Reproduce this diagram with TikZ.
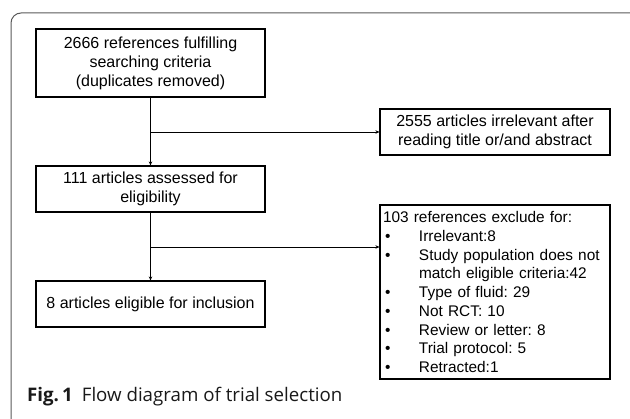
\documentclass[tikz,border=0pt]{standalone}
\usepackage{fontspec}
\setmainfont{Liberation Sans}
\newfontfamily\capfont{Open Sans}
\usetikzlibrary{arrows.meta}
\frenchspacing
\newcommand{\bul}{\makebox[36pt][l]{\hspace{2pt}•}}
\begin{document}
\begin{tikzpicture}[x=1pt,y=-1pt,
  box/.style={draw=black,line width=1.1pt,inner sep=2pt,font=\fontsize{16}{19}\selectfont,align=center},
  conn/.style={line width=0.9pt,-{Stealth[length=4pt,width=3.5pt]}}]
\useasboundingbox (0,0) rectangle (630,419);
\draw[line width=1pt,color=black!65,rounded corners=10pt] (11,419) -- (11,13) -- (640,13);
\node[box,minimum width=229pt,minimum height=68pt] (b1) at (150.5,63) {2666 references fulfilling\\searching criteria\\(duplicates removed)};
\node[box,minimum width=229pt,minimum height=46pt] (b2) at (150.5,189) {111 articles assessed for\\eligibility};
\node[box,minimum width=229pt,minimum height=46pt] (b4) at (150.5,304) {8 articles eligible for inclusion};
\node[box,minimum width=230pt,minimum height=46pt] (b3) at (495,132) {2555 articles irrelevant after\\reading title or/and abstract};
\node[box,minimum width=230pt,minimum height=174pt,text width=224pt,align=left,font=\fontsize{15.4}{18.75}\selectfont] (b5) at (495,292) {103 references exclude for:\\
\bul Irrelevant:8\\
\bul Study population does not\\
\hspace*{36pt}match eligible criteria:42\\
\bul Type of fluid: 29\\
\bul Not RCT: 10\\
\bul Review or letter: 8\\
\bul Trial protocol: 5\\
\bul Retracted:1};
\coordinate (j1) at (b1.south |- b3.west);
\coordinate (j2) at (150.5,247);
\draw[conn] (b1.south) -- (b2.north);
\draw[conn] (j1) -- (b3.west);
\draw[conn] (b2.south) -- (b4.north);
\draw[conn] (j2) -- (j2 -| b5.west);
\node[anchor=west,inner sep=0pt,text=black!90,font=\capfont\fontsize{18.7}{22}\selectfont] (cap) at (27,397) {\textbf{Fig.\,1}\hspace{9pt}Flow diagram of trial selection};
\end{tikzpicture}
\end{document}
